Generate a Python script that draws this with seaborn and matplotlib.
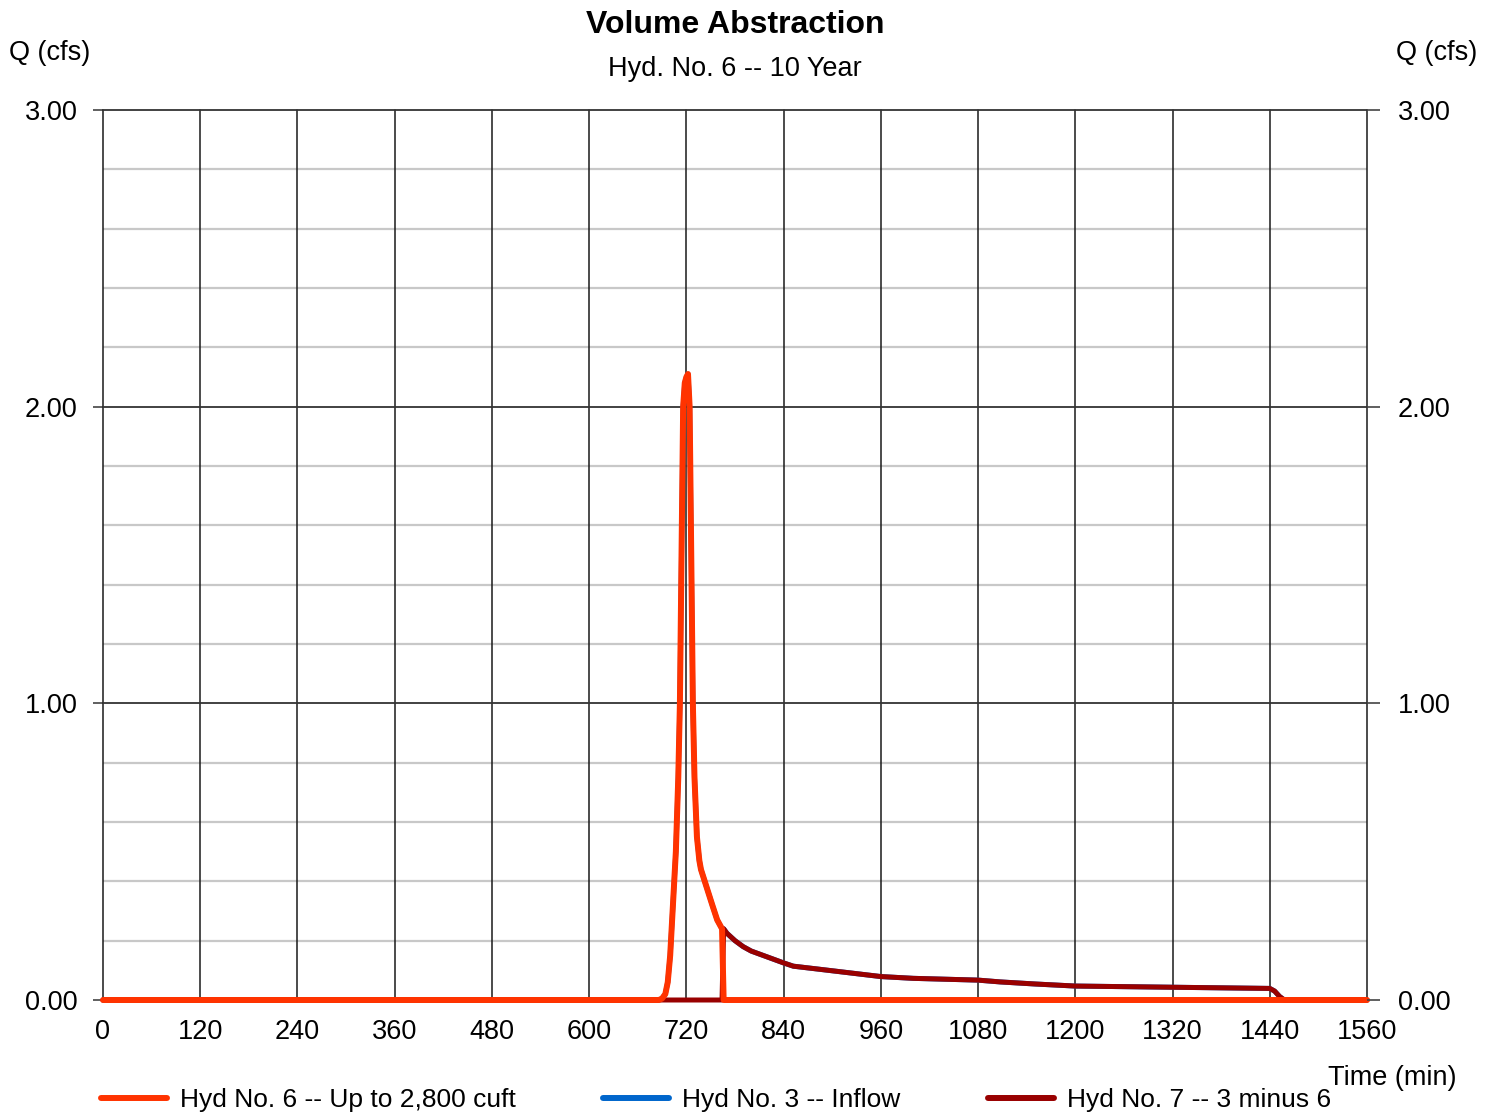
import numpy as np
import pandas as pd
import matplotlib
matplotlib.use("Agg")
import matplotlib.pyplot as plt
from matplotlib.lines import Line2D
from matplotlib.ticker import MultipleLocator, FormatStrFormatter
import seaborn as sns

# Hyd No. 6 -- volume abstraction (up to 2,800 cuft)
hyd6_time = [0, 686, 690, 694, 697, 700, 703, 707, 710, 712, 714, 716, 718, 720,
             722, 724, 726, 728, 730, 733, 736, 738, 745, 752, 758, 762, 764, 766, 1560]
hyd6_q = [0.0, 0.0, 0.005, 0.02, 0.06, 0.15, 0.30, 0.50, 0.75, 1.00, 1.50, 2.00, 2.08, 2.10,
          2.11, 2.00, 1.50, 1.00, 0.75, 0.55, 0.47, 0.44, 0.38, 0.32, 0.27, 0.25, 0.24, 0.0, 0.0]

# Hyd No. 7 -- 3 minus 6
hyd7_time = [0, 764, 766, 770, 780, 790, 800, 820, 840, 852, 880, 920, 960, 1000, 1080,
             1107, 1150, 1200, 1260, 1320, 1380, 1440, 1446, 1452, 1458, 1560]
hyd7_q = [0.0, 0.0, 0.24, 0.225, 0.20, 0.18, 0.165, 0.145, 0.125, 0.114, 0.105, 0.092,
          0.079, 0.073, 0.067, 0.061, 0.054, 0.047, 0.045, 0.043, 0.041, 0.039, 0.030,
          0.012, 0.0, 0.0]

# Hyd No. 3 -- inflow (sum of the abstracted and passed-through flows)
hyd3_time = sorted(set(hyd6_time) | set(hyd7_time))
hyd3_q = list(np.interp(hyd3_time, hyd6_time, hyd6_q) + np.interp(hyd3_time, hyd7_time, hyd7_q))

x_ticks = [0, 120, 240, 360, 480, 600, 720, 840, 960, 1080, 1200, 1320, 1440, 1560]
y_major = [0.0, 1.0, 2.0, 3.0]

labels = ["Hyd No. 6 -- Up to 2,800 cuft", "Hyd No. 3 -- Inflow", "Hyd No. 7 -- 3 minus 6"]
colors = ["#FF3300", "#0066CC", "#990000"]

FS = 19.5

sns.set_style("white")
plt.rcParams["font.family"] = ["Liberation Sans", "DejaVu Sans"]
plt.rcParams["font.size"] = FS
plt.rcParams["text.color"] = "black"
plt.rcParams["xtick.color"] = "black"
plt.rcParams["ytick.color"] = "black"

fig = plt.figure(figsize=(14.94, 11.12), dpi=100)
ax = fig.add_axes([103 / 1494, 1 - 1000 / 1112, 1264 / 1494, 890 / 1112])

df3 = pd.DataFrame({"t": hyd3_time, "q": hyd3_q})
df7 = pd.DataFrame({"t": hyd7_time, "q": hyd7_q})
df6 = pd.DataFrame({"t": hyd6_time, "q": hyd6_q})

sns.lineplot(data=df3, x="t", y="q", color=colors[1], lw=3.6, ax=ax, sort=False,
             estimator=None, legend=False)
sns.lineplot(data=df7, x="t", y="q", color=colors[2], lw=3.6, ax=ax, sort=False,
             estimator=None, legend=False)
sns.lineplot(data=df6, x="t", y="q", color=colors[0], lw=4.3, ax=ax, sort=False,
             estimator=None, legend=False)
for ln in ax.lines:
    ln.set_clip_on(False)
    ln.set_solid_capstyle("round")
    ln.set_solid_joinstyle("round")
    ln.set_zorder(5)

ax.set_xlim(0, 1560)
ax.set_ylim(0, 3)
ax.set_xticks(x_ticks)
ax.set_yticks(y_major)
ax.yaxis.set_minor_locator(MultipleLocator(0.2))
ax.yaxis.set_major_formatter(FormatStrFormatter("%.2f"))
ax.set_xlabel("")
ax.set_ylabel("")

for s in ax.spines.values():
    s.set_visible(False)

ax.grid(False)
for xv in x_ticks:
    ax.axvline(xv, color="#1a1a1a", lw=1.1, zorder=1, clip_on=False)
for yv in np.arange(0.2, 3.0, 0.2):
    if abs(yv - round(yv)) > 1e-6:
        ax.axhline(yv, color="#c8c8c8", lw=1.6, zorder=0.5)
for yv in y_major:
    ax.axhline(yv, color="#333333", lw=1.3, zorder=1, clip_on=False)

ax.tick_params(axis="x", length=0, pad=14, labelsize=FS, colors="black")
ax.tick_params(axis="y", which="major", length=7.5, width=1.2, color="#444444",
               pad=11, labelsize=FS, labelcolor="black", direction="out", left=True)
ax.tick_params(axis="y", which="minor", length=0)

ax2 = ax.twinx()
ax2.set_ylim(0, 3)
ax2.set_yticks(y_major)
ax2.yaxis.set_major_formatter(FormatStrFormatter("%.2f"))
ax2.tick_params(axis="y", length=9, width=1.2, color="#444444", pad=13, labelsize=FS,
                labelcolor="black", direction="out")
for s in ax2.spines.values():
    s.set_visible(False)
ax2.grid(False)

fig.text(735 / 1494, 1 - 25 / 1112, "Volume Abstraction", ha="center", va="center",
         fontsize=23, fontweight="bold")
fig.text(735 / 1494, 1 - 69 / 1112, "Hyd. No. 6 -- 10 Year", ha="center", va="center",
         fontsize=FS)
fig.text(50 / 1494, 1 - 53 / 1112, "Q (cfs)", ha="center", va="center", fontsize=FS)
fig.text(1437 / 1494, 1 - 53 / 1112, "Q (cfs)", ha="center", va="center", fontsize=FS)
fig.text(1392 / 1494, 1 - 1078 / 1112, "Time (min)", ha="center", va="center", fontsize=FS)

handles = [Line2D([], [], color=c, lw=4.3, solid_capstyle="round") for c in colors]
fig.legend(handles, labels, loc="center left", bbox_to_anchor=(101 / 1494, 1 - 1100 / 1112),
           ncol=3, frameon=False, fontsize=19, handlelength=2.5, handletextpad=0.5,
           columnspacing=3.3, borderpad=0, borderaxespad=0)

fig.savefig("out.png", dpi=100)
